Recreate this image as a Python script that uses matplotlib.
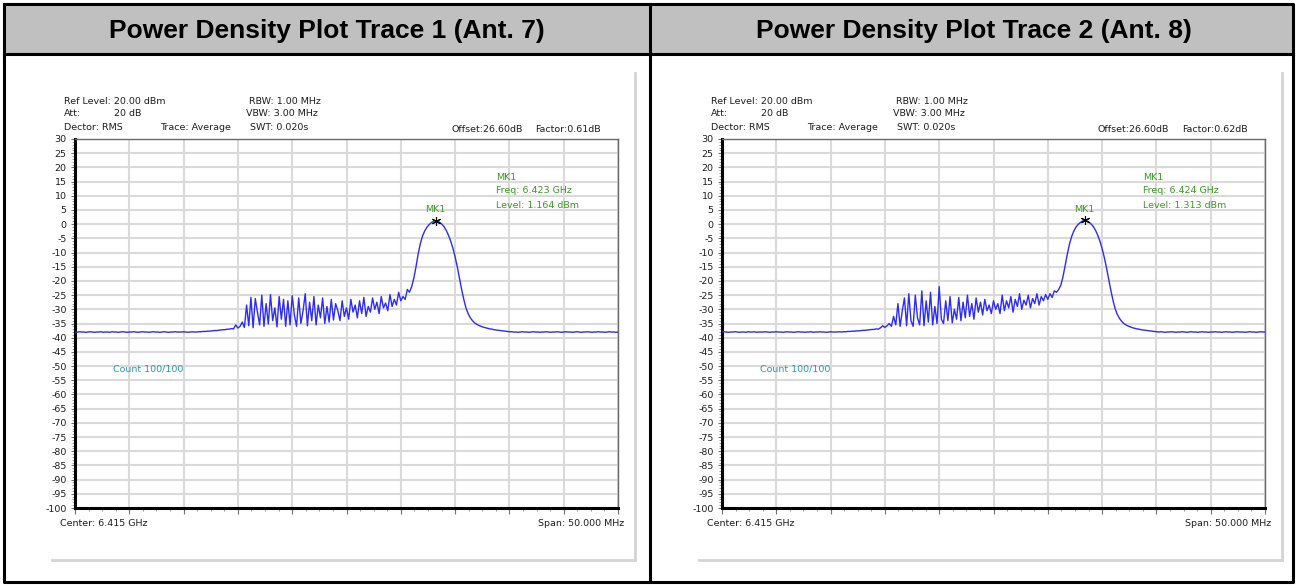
import matplotlib
matplotlib.use("Agg")
import matplotlib.pyplot as plt
from matplotlib.ticker import MultipleLocator, NullFormatter
import numpy as np

plt.rcParams["axes.unicode_minus"] = False

# sweep settings shown on the analyzer screen
center_ghz = 6.415
span_mhz = 50.0
n_points = 251

panel_titles = ["Power Density Plot Trace 1 (Ant. 7)", "Power Density Plot Trace 2 (Ant. 8)"]
factor_labels = ["Factor:0.61dB", "Factor:0.62dB"]
marker_freqs = ["Freq: 6.423 GHz", "Freq: 6.424 GHz"]
marker_levels = ["Level: 1.164 dBm", "Level: 1.313 dBm"]

trace1_dbm = [
    -38.0, -38.1, -37.9, -38.0, -38.0, -38.1, -38.0, -37.9, -38.0, -38.1,
    -38.0, -38.0, -37.9, -38.1, -38.0, -38.0, -38.1, -37.9, -38.0, -38.0,
    -38.1, -38.0, -37.9, -38.0, -38.1, -38.0, -38.0, -37.9, -38.0, -38.1,
    -38.0, -37.9, -38.0, -38.0, -38.1, -38.0, -37.9, -38.0, -38.0, -38.1,
    -38.0, -37.9, -38.0, -38.1, -38.0, -38.0, -37.9, -38.0, -38.0, -38.0,
    -37.9, -38.0, -38.1, -38.0, -37.9, -38.0, -38.0, -37.9, -37.9, -37.8,
    -37.8, -37.7, -37.7, -37.6, -37.5, -37.5, -37.4, -37.3, -37.2, -37.2,
    -37.0, -37.0, -36.8, -36.9, -35.5, -36.6, -36.0, -34.5, -36.4, -28.5,
    -35.8, -25.8, -36.5, -26.2, -31.0, -35.5, -25.0, -36.0, -28.0, -35.2,
    -24.8, -34.0, -29.5, -36.2, -25.5, -33.5, -26.5, -36.0, -27.0, -35.5,
    -25.2, -32.0, -36.0, -26.0, -35.0, -30.5, -24.5, -35.8, -27.5, -34.0,
    -25.5, -35.5, -28.5, -33.0, -26.0, -35.0, -29.0, -34.5, -26.5, -33.8,
    -28.0, -30.5, -34.0, -27.0, -32.5, -29.5, -33.5, -26.5, -31.0, -28.5,
    -33.0, -27.0, -31.5, -25.8, -32.5, -29.0, -31.0, -26.0, -30.0, -27.5,
    -31.5, -25.5, -29.5, -27.8, -30.5, -24.8, -29.0, -26.5, -28.5, -24.0,
    -27.0, -25.5, -26.5, -23.0, -24.0, -22.0, -19.0, -15.0, -10.5, -6.8,
    -4.2, -2.4, -1.1, -0.2, 0.5, 1.0, 1.164, 1.0, 0.6, -0.1,
    -1.0, -2.3, -4.0, -6.0, -8.5, -11.5, -15.0, -19.0, -23.0, -26.5,
    -29.5, -31.5, -33.0, -34.0, -34.8, -35.3, -35.7, -36.0, -36.3, -36.5,
    -36.7, -36.9, -37.0, -37.2, -37.3, -37.4, -37.5, -37.6, -37.7, -37.8,
    -37.9, -37.9, -38.0, -38.0, -38.1, -38.0, -37.9, -38.0, -38.0, -38.1,
    -38.0, -37.9, -38.0, -38.0, -38.1, -38.0, -38.0, -37.9, -38.0, -38.1,
    -38.0, -38.0, -37.9, -38.0, -38.1, -38.0, -37.9, -38.0, -38.0, -38.1,
    -38.0, -37.9, -38.0, -38.1, -38.0, -38.0, -37.9, -38.0, -38.1, -38.0,
    -38.0, -37.9, -38.0, -38.0, -38.1, -38.0, -37.9, -38.0, -38.0, -38.1,
    -38.0,
]

trace2_dbm = [
    -38.0, -37.9, -38.0, -38.1, -38.0, -38.0, -37.9, -38.0, -38.1, -38.0,
    -38.0, -38.1, -37.9, -38.0, -38.0, -37.9, -38.1, -38.0, -38.0, -38.0,
    -37.9, -38.0, -38.1, -38.0, -38.0, -37.9, -38.0, -38.0, -38.1, -38.0,
    -37.9, -38.0, -38.0, -38.1, -38.0, -37.9, -38.0, -38.0, -38.1, -38.0,
    -38.0, -37.9, -38.1, -38.0, -38.0, -37.9, -38.0, -38.0, -38.1, -38.0,
    -37.9, -38.0, -38.0, -38.0, -37.9, -38.0, -37.9, -37.9, -37.8, -37.8,
    -37.7, -37.7, -37.6, -37.6, -37.5, -37.4, -37.4, -37.3, -37.2, -37.1,
    -37.1, -36.9, -37.0, -36.5, -35.8, -36.4, -35.8, -35.0, -36.0, -32.5,
    -35.5, -28.0, -36.0, -30.5, -26.0, -35.8, -24.5, -34.0, -36.0, -25.0,
    -33.0, -35.5, -23.5, -35.8, -27.0, -34.5, -24.0, -35.5, -29.0, -35.0,
    -22.0, -33.5, -35.0, -27.0, -34.0, -25.5, -34.8, -30.0, -33.5, -25.8,
    -34.0, -27.5, -33.0, -25.0, -32.5, -28.0, -33.5, -26.0, -31.0, -27.5,
    -32.0, -26.5, -30.5, -28.5, -31.5, -27.0, -30.0, -28.0, -31.5, -25.0,
    -30.5, -27.0, -29.5, -25.5, -31.0, -26.5, -29.0, -24.5, -30.0, -26.8,
    -28.5, -25.0, -29.5, -26.2, -28.0, -24.5, -28.5, -25.5, -27.0, -24.8,
    -26.5, -24.5, -25.8, -23.5, -24.0, -23.0, -21.5, -18.5, -14.5, -10.5,
    -7.0, -4.3, -2.4, -1.0, -0.1, 0.6, 1.1, 1.313, 1.1, 0.7,
    0.0, -0.9, -2.2, -3.9, -6.0, -8.6, -11.7, -15.3, -19.3, -23.2,
    -26.8, -29.8, -31.8, -33.2, -34.2, -35.0, -35.5, -35.9, -36.2, -36.5,
    -36.7, -36.9, -37.0, -37.2, -37.3, -37.4, -37.5, -37.6, -37.7, -37.8,
    -37.9, -38.0, -37.9, -38.0, -38.1, -38.0, -38.0, -37.9, -38.0, -38.1,
    -38.0, -38.0, -37.9, -38.0, -38.1, -38.0, -37.9, -38.0, -38.0, -38.1,
    -38.0, -37.9, -38.0, -38.0, -38.1, -38.0, -38.0, -37.9, -38.0, -38.0,
    -38.1, -38.0, -37.9, -38.0, -38.0, -38.1, -38.0, -37.9, -38.0, -38.0,
    -38.0, -38.1, -38.0, -37.9, -38.0, -38.0, -38.1, -38.0, -37.9, -38.0,
    -38.0,
]

traces = [trace1_dbm, trace2_dbm]
freq_ghz = center_ghz + span_mhz / 1000.0 * (np.arange(n_points) / (n_points - 1) - 0.5)

W, H = 1296, 585
fig = plt.figure(figsize=(W / 100, H / 100), dpi=100)

# background axes in pixel coordinates for the table and screen texts
bg = fig.add_axes([0, 0, 1, 1])
bg.set_xlim(0, W)
bg.set_ylim(H, 0)
bg.axis("off")
bg.fill_between([4, 1293], 4, 54, color="#c0c0c0", zorder=0)
bg.plot([4, 1293, 1293, 4, 4], [4, 4, 582, 582, 4], color="black", lw=2.2)
bg.plot([4, 1293], [54, 54], color="black", lw=2.2)
bg.plot([650, 650], [4, 582], color="black", lw=2.2)

green = "#3a9a22"
teal = "#2a9aa8"
txt = "#1e1e1e"
fs = 6.8

for k in range(2):
    dx = 647 * k
    bg.text(327 + dx, 31, panel_titles[k], ha="center", va="center", fontsize=19,
            fontweight="bold", family="Liberation Sans")
    # screenshot shadow edges
    bg.plot([635 + dx, 635 + dx], [73, 560], color="#d4d4d4", lw=2)
    bg.plot([52 + dx, 635 + dx], [560, 560], color="#d4d4d4", lw=2)

    bg.text(64 + dx, 101, "Ref Level: 20.00 dBm", fontsize=fs, va="center", color=txt)
    bg.text(64 + dx, 114, "Att:", fontsize=fs, va="center", color=txt)
    bg.text(114 + dx, 114, "20 dB", fontsize=fs, va="center", color=txt)
    bg.text(64 + dx, 128, "Dector: RMS", fontsize=fs, va="center", color=txt)
    bg.text(160 + dx, 128, "Trace: Average", fontsize=fs, va="center", color=txt)
    bg.text(250 + dx, 128, "SWT: 0.020s", fontsize=fs, va="center", color=txt)
    bg.text(249 + dx, 101, "RBW: 1.00 MHz", fontsize=fs, va="center", color=txt)
    bg.text(246 + dx, 114, "VBW: 3.00 MHz", fontsize=fs, va="center", color=txt)
    bg.text(451 + dx, 129, "Offset:26.60dB", fontsize=fs, va="center", color=txt)
    bg.text(601 + dx, 129, factor_labels[k], fontsize=fs, va="center", ha="right", color=txt)
    bg.text(60 + dx, 523, "Center: 6.415 GHz", fontsize=fs, va="center", color=txt)
    bg.text(624 + dx, 523, "Span: 50.000 MHz", fontsize=fs, va="center", ha="right", color=txt)

    left, right, top, bottom = 75 + dx, 618 + dx, 139, 508
    ax = fig.add_axes([left / W, (H - bottom) / H, (right - left) / W, (bottom - top) / H])
    lv = np.array(traces[k])
    ax.plot(freq_ghz, lv, color="#2b2bff", lw=1.0, zorder=3)
    ax.set_xlim(center_ghz - span_mhz / 2000, center_ghz + span_mhz / 2000)
    ax.set_ylim(-100, 30)

    ax.xaxis.set_major_locator(MultipleLocator(0.005))
    ax.xaxis.set_minor_locator(MultipleLocator(0.00125))
    ax.xaxis.set_major_formatter(NullFormatter())
    ax.yaxis.set_major_locator(MultipleLocator(5))
    ax.yaxis.set_minor_locator(MultipleLocator(1))
    ax.tick_params(axis="y", which="major", labelsize=fs, length=3, width=0.8,
                   color="#707070", pad=3, labelcolor=txt)
    ax.tick_params(axis="y", which="minor", length=2, width=0.6, color="#909090")
    ax.tick_params(axis="x", which="major", length=4, width=0.8, color="#707070")
    ax.tick_params(axis="x", which="minor", length=2.5, width=0.6, color="#909090")
    ax.grid(True, which="major", color="#dadada", lw=1.5, zorder=0)
    ax.set_axisbelow(True)
    for side in ["left", "bottom"]:
        ax.spines[side].set_linewidth(2.2)
        ax.spines[side].set_color("black")
    for side in ["top", "right"]:
        ax.spines[side].set_linewidth(1.0)
        ax.spines[side].set_color("#6a6a6a")

    # marker at the peak
    ip = int(np.argmax(lv))
    ax.plot(freq_ghz[ip], lv[ip], marker=(6, 2, 0), color="black", ms=6.5, mew=0.8, zorder=4)
    ax.annotate("MK1", (freq_ghz[ip], lv[ip]), xytext=(0, 8), textcoords="offset points",
                ha="center", va="center", fontsize=fs, color=green)
    ax.text(6.4288, 16.5, "MK1", fontsize=fs, color=green, va="center")
    ax.text(6.4288, 12.0, marker_freqs[k], fontsize=fs, color=green, va="center")
    ax.text(6.4288, 6.7, marker_levels[k], fontsize=fs, color=green, va="center")
    ax.text(6.3935, -51, "Count 100/100", fontsize=fs, color=teal, va="center")

fig.savefig("out.png", dpi=100)
